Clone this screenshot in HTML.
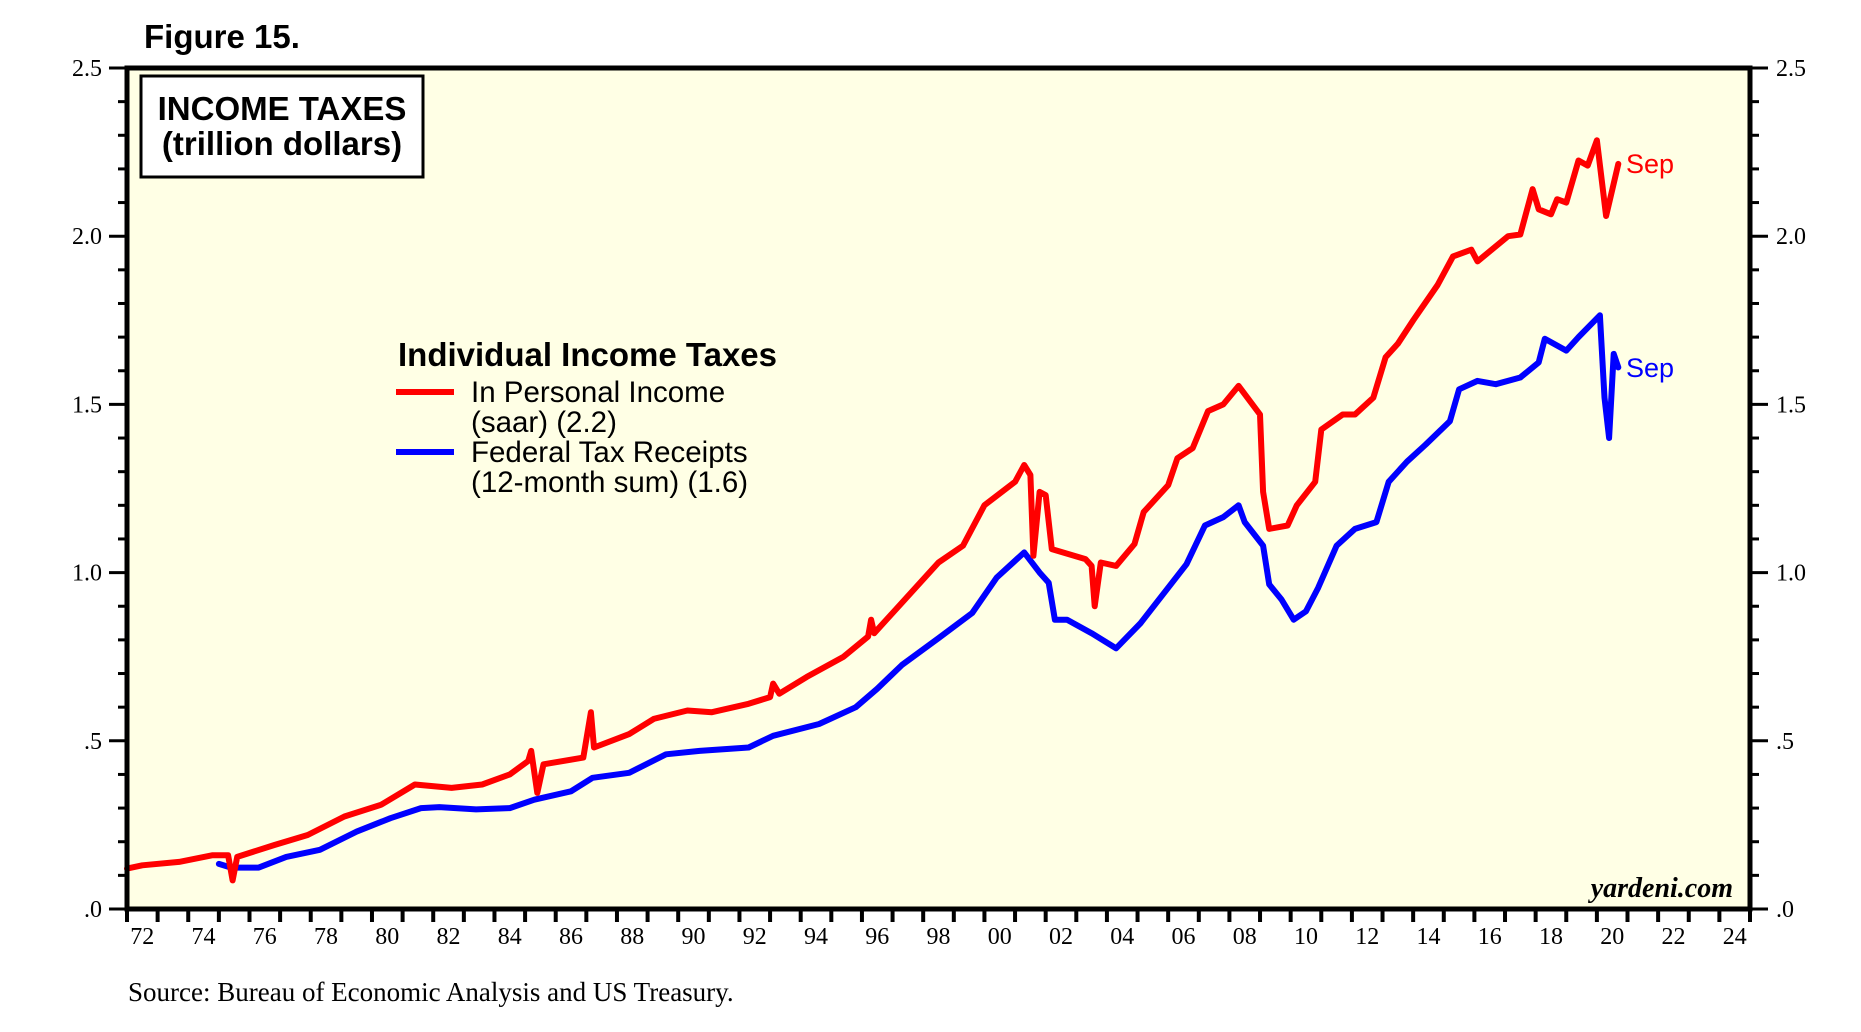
<!DOCTYPE html>
<html><head><meta charset="utf-8"><style>
html,body{margin:0;padding:0;background:#fff;}
svg{display:block;}
</style></head><body>
<svg id="chart" width="1861" height="1032" viewBox="0 0 1861 1032" xmlns="http://www.w3.org/2000/svg">
  <text x="144" y="48" font-family="Liberation Sans, sans-serif" font-weight="bold" font-size="33">Figure 15.</text>
  <rect x="127" y="68" width="1623" height="841" fill="#FFFFE5"/>
  <g id="axes"></g>
  <g id="series"></g>
  <rect x="127" y="68" width="1623" height="841" fill="none" stroke="#000" stroke-width="5"/>
  <rect x="141" y="76" width="282" height="101" fill="#fff" stroke="#000" stroke-width="3"/>
  <text x="282" y="120" text-anchor="middle" font-family="Liberation Sans, sans-serif" font-weight="bold" font-size="33">INCOME TAXES</text>
  <text x="282" y="155" text-anchor="middle" font-family="Liberation Sans, sans-serif" font-weight="bold" font-size="33">(trillion dollars)</text>
  <g font-family="Liberation Sans, sans-serif">
    <text x="398" y="366" font-weight="bold" font-size="33">Individual Income Taxes</text>
    <line x1="396" y1="392" x2="454" y2="392" stroke="#ff0000" stroke-width="6"/>
    <text x="471" y="402" font-size="29.5">In Personal Income</text>
    <text x="471" y="432" font-size="29.5">(saar) (2.2)</text>
    <line x1="396" y1="452" x2="454" y2="452" stroke="#0000ff" stroke-width="6"/>
    <text x="471" y="462" font-size="29.5">Federal Tax Receipts</text>
    <text x="471" y="492" font-size="29.5">(12-month sum) (1.6)</text>
  </g>
  <text x="1626" y="173" fill="#ff0000" font-family="Liberation Sans, sans-serif" font-size="27">Sep</text>
  <text x="1626" y="377" fill="#0000ff" font-family="Liberation Sans, sans-serif" font-size="27">Sep</text>
  <text x="1733" y="897" text-anchor="end" font-family="Liberation Serif, serif" font-weight="bold" font-style="italic" font-size="28">yardeni.com</text>
  <text x="128" y="1001" font-family="Liberation Serif, serif" font-size="27">Source: Bureau of Economic Analysis and US Treasury.</text>
</svg>
<script>
const yTickValues = [0, 0.5, 1.0, 1.5, 2.0, 2.5];
const yTickLabels = [".0", ".5", "1.0", "1.5", "2.0", "2.5"];
const xYears = [1972,1974,1976,1978,1980,1982,1984,1986,1988,1990,1992,1994,1996,1998,2000,2002,2004,2006,2008,2010,2012,2014,2016,2018,2020,2022,2024];
const xTickLabels = ["72","74","76","78","80","82","84","86","88","90","92","94","96","98","00","02","04","06","08","10","12","14","16","18","20","22","24"];
const redDates = [1972.0,1972.5,1973.7,1974.8,1975.3,1975.45,1975.6,1976.8,1977.9,1979.1,1980.3,1981.4,1982.6,1983.6,1984.5,1985.1,1985.2,1985.4,1985.6,1986.9,1987.15,1987.25,1988.4,1989.2,1990.3,1991.1,1992.3,1993.0,1993.1,1993.3,1994.2,1995.4,1996.2,1996.3,1996.4,1997.3,1998.5,1999.3,2000.0,2001.0,2001.3,2001.5,2001.6,2001.8,2002.0,2002.2,2003.3,2003.5,2003.6,2003.8,2004.3,2004.9,2005.2,2006.0,2006.3,2006.8,2007.3,2007.8,2008.3,2009.0,2009.1,2009.3,2009.9,2010.2,2010.8,2011.0,2011.7,2012.1,2012.7,2013.1,2013.5,2014.0,2014.8,2015.3,2015.9,2016.1,2017.1,2017.5,2017.9,2018.1,2018.5,2018.7,2019.0,2019.4,2019.7,2020.0,2020.3,2020.7];
const redValues = [0.12,0.13,0.14,0.16,0.16,0.085,0.155,0.19,0.22,0.275,0.31,0.37,0.36,0.37,0.40,0.44,0.47,0.345,0.43,0.45,0.585,0.48,0.52,0.565,0.59,0.585,0.61,0.63,0.67,0.64,0.69,0.75,0.81,0.86,0.82,0.91,1.03,1.08,1.20,1.27,1.32,1.29,1.05,1.24,1.23,1.07,1.04,1.02,0.90,1.03,1.02,1.085,1.18,1.26,1.34,1.37,1.48,1.50,1.555,1.47,1.24,1.13,1.14,1.20,1.27,1.425,1.47,1.47,1.52,1.64,1.68,1.75,1.855,1.94,1.96,1.925,2.00,2.005,2.14,2.08,2.065,2.11,2.10,2.225,2.21,2.285,2.06,2.215];
const blueDates = [1975.0,1975.4,1976.3,1977.2,1978.3,1979.5,1980.6,1981.6,1982.2,1983.4,1984.5,1985.3,1986.5,1987.2,1988.4,1989.6,1990.7,1992.3,1993.1,1994.6,1995.8,1996.5,1997.3,1998.5,1999.6,2000.4,2001.3,2001.8,2002.1,2002.3,2002.7,2003.5,2004.3,2005.1,2006.0,2006.6,2007.2,2007.8,2008.3,2008.5,2009.1,2009.3,2009.7,2010.1,2010.5,2010.9,2011.5,2012.1,2012.8,2013.2,2013.8,2014.4,2015.2,2015.5,2016.1,2016.7,2017.5,2018.1,2018.3,2019.0,2019.4,2020.1,2020.25,2020.4,2020.55,2020.7];
const blueValues = [0.134,0.123,0.123,0.155,0.176,0.23,0.27,0.30,0.303,0.296,0.30,0.325,0.35,0.39,0.405,0.46,0.47,0.48,0.515,0.55,0.60,0.655,0.725,0.805,0.88,0.985,1.06,1.00,0.97,0.86,0.86,0.82,0.775,0.85,0.955,1.025,1.14,1.165,1.20,1.15,1.08,0.965,0.92,0.86,0.885,0.955,1.08,1.13,1.15,1.27,1.33,1.38,1.45,1.545,1.57,1.56,1.58,1.625,1.695,1.66,1.70,1.765,1.52,1.40,1.65,1.61];

const L = 127, R = 1750, T = 68, B = 909;
const xMin = 1972, xMax = 2025, yMax = 2.5;
function xs(y) { return L + (y - xMin) / (xMax - xMin) * (R - L); }
function ys(v) { return B - v / yMax * (B - T); }
const NS = "http://www.w3.org/2000/svg";
const axes = document.getElementById('axes');
const series = document.getElementById('series');
function mk(tag, attrs, parent) {
  const e = document.createElementNS(NS, tag);
  for (const k in attrs) e.setAttribute(k, attrs[k]);
  parent.appendChild(e);
  return e;
}
for (let i = 0; i <= 25; i++) {
  const v = i / 10;
  const major = i % 5 === 0;
  const len = major ? 18 : 9;
  const y = ys(v);
  const tl = mk('line', {x1: L - len, x2: L, y1: y, y2: y, stroke: '#000', 'stroke-width': 3}, axes);
  
  
  const tr = mk('line', {x1: R, x2: R + len, y1: y, y2: y, stroke: '#000', 'stroke-width': 3}, axes);
  
  
}
yTickValues.forEach((v, i) => {
  const a = mk('text', {x: 102, y: ys(v) + 8, 'text-anchor': 'end', 'font-family': 'Liberation Serif, serif', 'font-size': 24}, axes);
  a.textContent = yTickLabels[i];
  
  
  const b = mk('text', {x: 1776, y: ys(v) + 8, 'font-family': 'Liberation Serif, serif', 'font-size': 24}, axes);
  b.textContent = yTickLabels[i];
  
  
});
for (let yr = xMin; yr <= xMax; yr++) {
  const t = mk('line', {x1: xs(yr), x2: xs(yr), y1: B, y2: B + 13, stroke: '#000', 'stroke-width': 4}, axes);
  
  
}
xYears.forEach((yr, i) => {
  const t = mk('text', {x: xs(yr + 0.5), y: 944, 'text-anchor': 'middle', 'font-family': 'Liberation Serif, serif', 'font-size': 24}, axes);
  t.textContent = xTickLabels[i];
  
  
});
function path(dates, vals, color, name) {
  const d = dates.map((t, i) => (i ? 'L' : 'M') + xs(t).toFixed(1) + ',' + ys(vals[i]).toFixed(1)).join(' ');
  const p = mk('path', {d: d, fill: 'none', stroke: color, 'stroke-width': 6, 'stroke-linejoin': 'round', 'stroke-linecap': 'round'}, series);
  
  
}
path(blueDates, blueValues, '#0000ff', 'federal-tax-receipts-line');
path(redDates, redValues, '#ff0000', 'personal-income-taxes-line');
</script>
</body></html>
